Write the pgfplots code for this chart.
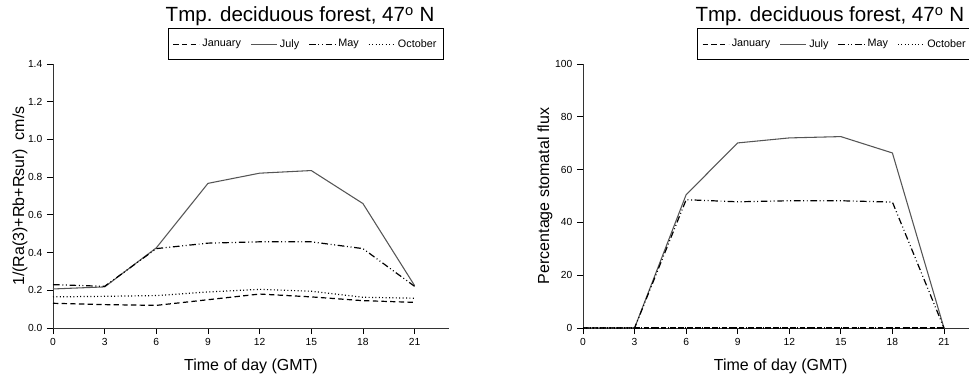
\documentclass[border=0pt]{standalone}
\usepackage{fontspec}
\setmainfont{Liberation Sans}
\usepackage{pgfplots}
\usepackage{pgfplotstable}
\pgfplotsset{compat=1.18}

% Deposition velocity 1/(Ra(3)+Rb+Rsur), cm/s
\pgfplotstableread{
hour jan   jul   may   oct
0    0.131 0.207 0.230 0.165
3    0.124 0.218 0.221 0.168
6    0.120 0.425 0.421 0.172
9    0.150 0.767 0.450 0.191
12   0.180 0.821 0.457 0.205
15   0.165 0.835 0.457 0.195
18   0.145 0.660 0.421 0.163
21   0.136 0.225 0.221 0.158
}\vdep

% Percentage of the flux going through the stomata
\pgfplotstableread{
hour jan jul  may  oct
0    0   0    0    0
3    0   0    0    0
6    0   50.5 48.6 0
9    0   70.1 47.8 0
12   0   72.0 48.2 0
15   0   72.5 48.2 0
18   0   66.3 47.7 0
21   0   0    0    0
}\stom

\definecolor{julgray}{HTML}{555555}

\pgfplotsset{
  janline/.style={black, line width=0.9pt, dash pattern=on 4pt off 2.5pt},
  julline/.style={julgray, line width=0.8pt},
  mayline/.style={black, line width=0.9pt, dash pattern=on 5pt off 2pt on 0.7pt off 2pt on 0.7pt off 2pt},
  octline/.style={black, line width=0.9pt, dash pattern=on 0.75pt off 1.8pt},
  forestpanel/.style={
    scale only axis, width=297pt, height=198pt, anchor=south west,
    xmin=0, xmax=23, xtick={0,3,...,21}, ymin=0, clip=false,
    axis x line=bottom, axis y line=left,
    axis line style={-, line width=0.75pt, black!80},
    tick align=outside, major tick length=4.5pt,
    tick style={black, line width=0.6pt},
    ticklabel style={font=\fontsize{7.7}{9}\selectfont},
    /pgf/number format/assume math mode=true,
    label style={font=\fontsize{12}{14}\selectfont},
    xlabel={Time of day (GMT)},
    xlabel style={at={([yshift=-31.5pt]rel axis cs:0.5,0)}, anchor=base},
    title={Tmp. deciduous forest, 47\textsuperscript{\fontsize{11}{11}\selectfont o} N},
    title style={at={([yshift=25.5pt]rel axis cs:0.284,1)}, anchor=base west,
                 inner sep=0pt, font=\fontsize{15.4}{18}\selectfont},
    legend columns=4,
    legend image code/.code={\draw[##1] (0pt,0pt) -- (19.5pt,0pt);},
    legend style={at={([xshift=-3.75pt,yshift=3pt]rel axis cs:1,1)}, anchor=south east,
                  draw=black, font=\fontsize{8.1}{9}\selectfont,
                  inner xsep=3.5pt, inner ysep=6pt,
                  /tikz/every even column/.append style={column sep=5pt}},
  },
}

\begin{document}
\begin{tikzpicture}
\useasboundingbox (0,0) rectangle (726.75pt,283.5pt);
\clip (0,0) rectangle (726.75pt,283.5pt);

\begin{axis}[forestpanel, at={(39.75pt,37.5pt)},
  ymax=1.4, ytick={0,0.2,...,1.4},
  yticklabel style={/pgf/number format/.cd, fixed, fixed zerofill, precision=1},
  ylabel={1/(Ra(3)+Rb+Rsur)\ \ cm/s},
  ylabel style={at={([xshift=-24.75pt]rel axis cs:0,0.5)}, anchor=center}]
\addplot[janline] table[x=hour, y=jan] {\vdep};
\addplot[julline] table[x=hour, y=jul] {\vdep};
\addplot[mayline] table[x=hour, y=may] {\vdep};
\addplot[octline] table[x=hour, y=oct] {\vdep};
\legend{January, July, May, October}
\end{axis}

\begin{axis}[forestpanel, at={(437.25pt,37.5pt)}, width=296.5pt,
  ymax=100, ytick={0,20,...,100},
  ylabel={Percentage stomatal flux},
  ylabel style={at={([xshift=-28.5pt]rel axis cs:0,0.5)}, anchor=center}]
\addplot[janline] table[x=hour, y=jan] {\stom};
\addplot[julline] table[x=hour, y=jul] {\stom};
\addplot[mayline] table[x=hour, y=may] {\stom};
\addplot[octline] table[x=hour, y=oct] {\stom};
\legend{January, July, May, October}
\end{axis}
\end{tikzpicture}
\end{document}
